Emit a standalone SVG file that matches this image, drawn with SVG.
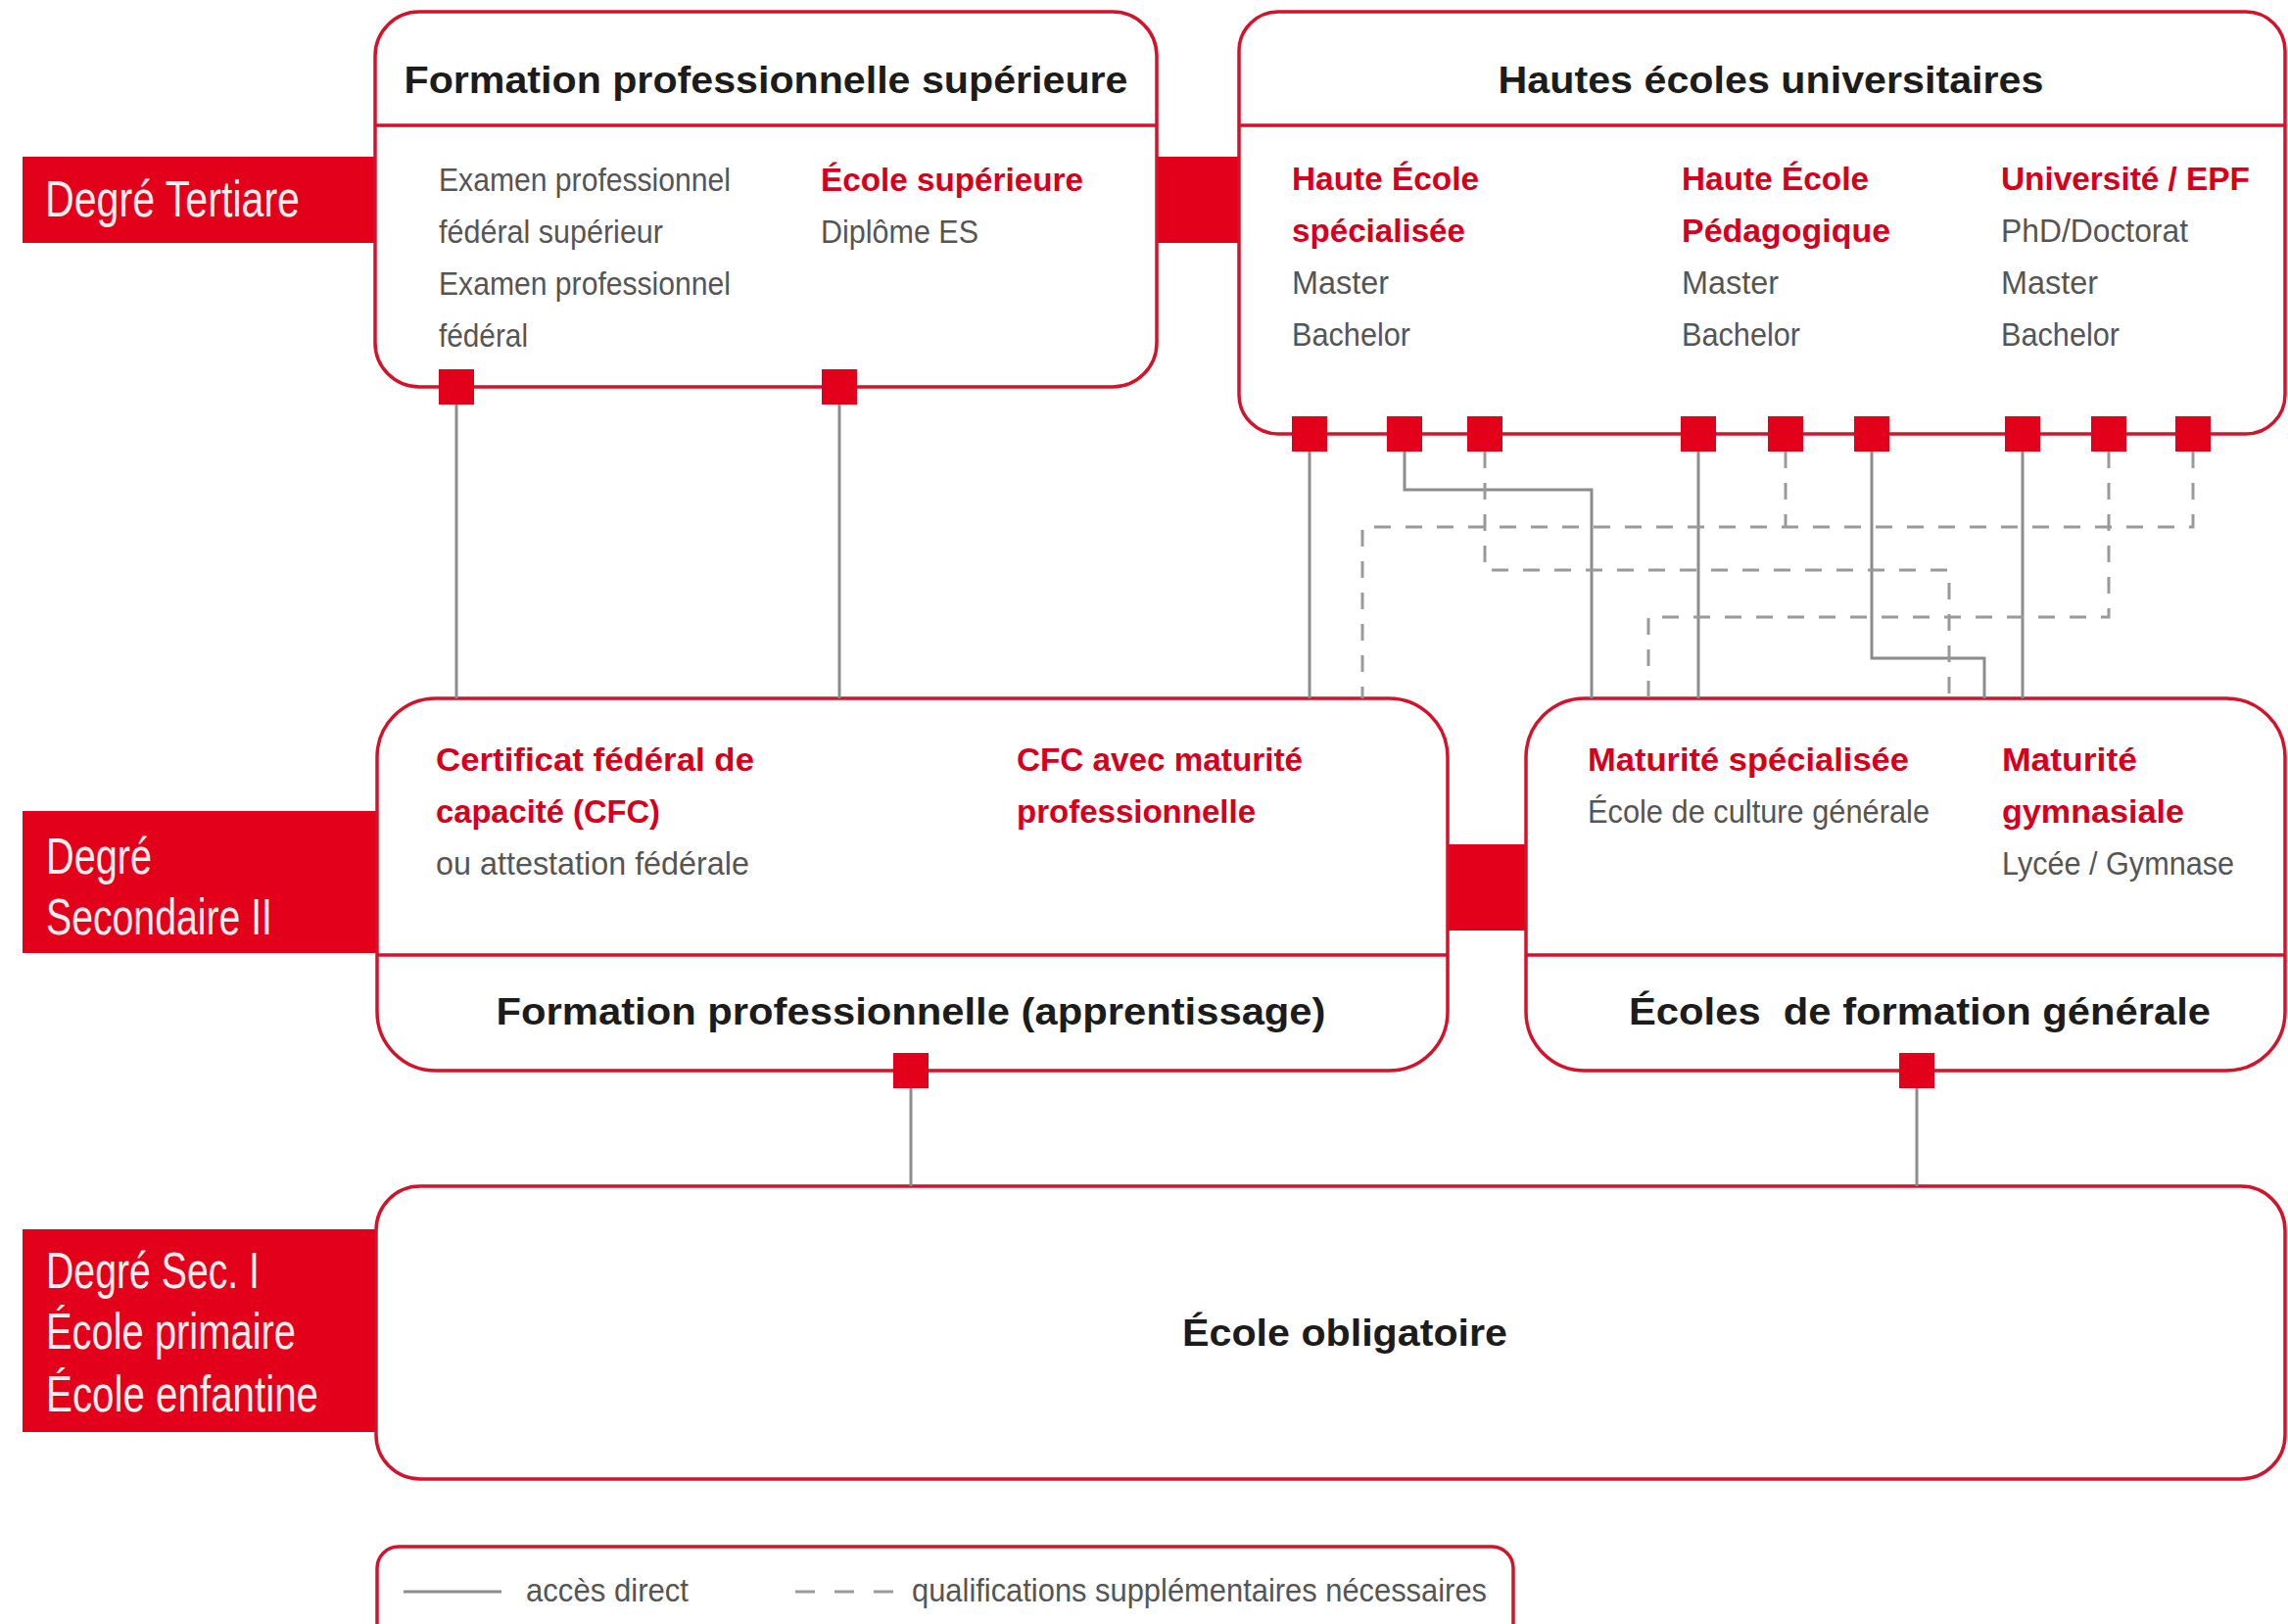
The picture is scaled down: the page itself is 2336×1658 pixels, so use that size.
<svg xmlns="http://www.w3.org/2000/svg" width="2336" height="1658" viewBox="0 0 2336 1658">
<style>
  text { font-family: "Liberation Sans", Arial, sans-serif; }
  .box { fill: #ffffff; stroke: #d3122b; stroke-width: 3.5; }
  .div { stroke: #d3122b; stroke-width: 3.5; fill: none; }
  .redfill { fill: #e2001a; }
  .port { fill: #e2001a; }
  .lbl { fill: #ffffff; font-size: 52px; opacity: 0.93; }
  .head { fill: #1c1c1c; font-size: 38px; font-weight: bold; }
  .sub { fill: #d6001c; font-size: 34px; font-weight: bold; }
  .body { fill: #555555; font-size: 33px; }
  .leg { fill: #555555; font-size: 34px; }
  .solid { stroke: #8c8c8c; stroke-width: 3; fill: none; }
  .dash { stroke: #9a9a9a; stroke-width: 3; fill: none; stroke-dasharray: 17 15; }
</style>
<rect x="0" y="0" width="2336" height="1658" fill="#ffffff"/>

<g id="bridges">
  <rect class="redfill" x="1179" y="160" width="88" height="88"/>
  <rect class="redfill" x="1476" y="862" width="84" height="88"/>
</g>

<g id="label-tertiaire">
  <rect class="redfill" x="23" y="160" width="362" height="88"/>
  <text class="lbl" x="46" y="221" textLength="260" lengthAdjust="spacingAndGlyphs">Degré Tertiare</text>
</g>

<g id="label-secondaire">
  <rect class="redfill" x="23" y="828" width="362" height="145"/>
  <text class="lbl" x="47" y="892" textLength="108" lengthAdjust="spacingAndGlyphs">Degré</text>
  <text class="lbl" x="47" y="954" textLength="231" lengthAdjust="spacingAndGlyphs">Secondaire II</text>
</g>

<g id="label-sec1">
  <rect class="redfill" x="23" y="1255" width="362" height="207"/>
  <text class="lbl" x="47" y="1315" textLength="218" lengthAdjust="spacingAndGlyphs">Degré Sec. I</text>
  <text class="lbl" x="47" y="1377" textLength="255" lengthAdjust="spacingAndGlyphs">École primaire</text>
  <text class="lbl" x="47" y="1441" textLength="278" lengthAdjust="spacingAndGlyphs">École enfantine</text>
</g>

<g id="box-formation-sup">
  <rect class="box" x="383" y="12" width="798" height="383" rx="45" ry="45"/>
  <line class="div" x1="383" y1="128" x2="1181" y2="128"/>
  <text class="head" x="782" y="95" text-anchor="middle" textLength="739" lengthAdjust="spacingAndGlyphs">Formation professionnelle supérieure</text>
  <text class="body" x="448" y="195" textLength="298" lengthAdjust="spacingAndGlyphs">Examen professionnel</text>
  <text class="body" x="448" y="248" textLength="229" lengthAdjust="spacingAndGlyphs">fédéral supérieur</text>
  <text class="body" x="448" y="301" textLength="298" lengthAdjust="spacingAndGlyphs">Examen professionnel</text>
  <text class="body" x="448" y="354" textLength="91" lengthAdjust="spacingAndGlyphs">fédéral</text>
  <text class="sub" x="838" y="195" textLength="268" lengthAdjust="spacingAndGlyphs">École supérieure</text>
  <text class="body" x="838" y="248" textLength="161" lengthAdjust="spacingAndGlyphs">Diplôme ES</text>
  <rect class="port" x="448" y="377" width="36" height="36"/>
  <rect class="port" x="839" y="377" width="36" height="36"/>
</g>

<g id="box-hautes-ecoles">
  <rect class="box" x="1265" y="12" width="1068" height="431" rx="40" ry="40"/>
  <line class="div" x1="1265" y1="128" x2="2333" y2="128"/>
  <text class="head" x="1808" y="95" text-anchor="middle" textLength="557" lengthAdjust="spacingAndGlyphs">Hautes écoles universitaires</text>
  <text class="sub" x="1319" y="194" textLength="191" lengthAdjust="spacingAndGlyphs">Haute École</text>
  <text class="sub" x="1319" y="247" textLength="177" lengthAdjust="spacingAndGlyphs">spécialisée</text>
  <text class="body" x="1319" y="300" textLength="99" lengthAdjust="spacingAndGlyphs">Master</text>
  <text class="body" x="1319" y="353" textLength="121" lengthAdjust="spacingAndGlyphs">Bachelor</text>
  <text class="sub" x="1717" y="194" textLength="191" lengthAdjust="spacingAndGlyphs">Haute École</text>
  <text class="sub" x="1717" y="247" textLength="213" lengthAdjust="spacingAndGlyphs">Pédagogique</text>
  <text class="body" x="1717" y="300" textLength="99" lengthAdjust="spacingAndGlyphs">Master</text>
  <text class="body" x="1717" y="353" textLength="121" lengthAdjust="spacingAndGlyphs">Bachelor</text>
  <text class="sub" x="2043" y="194" textLength="254" lengthAdjust="spacingAndGlyphs">Université / EPF</text>
  <text class="body" x="2043" y="247" textLength="191" lengthAdjust="spacingAndGlyphs">PhD/Doctorat</text>
  <text class="body" x="2043" y="300" textLength="99" lengthAdjust="spacingAndGlyphs">Master</text>
  <text class="body" x="2043" y="353" textLength="121" lengthAdjust="spacingAndGlyphs">Bachelor</text>
  <rect class="port" x="1319" y="425" width="36" height="36"/>
  <rect class="port" x="1416" y="425" width="36" height="36"/>
  <rect class="port" x="1498" y="425" width="36" height="36"/>
  <rect class="port" x="1716" y="425" width="36" height="36"/>
  <rect class="port" x="1805" y="425" width="36" height="36"/>
  <rect class="port" x="1893" y="425" width="36" height="36"/>
  <rect class="port" x="2047" y="425" width="36" height="36"/>
  <rect class="port" x="2135" y="425" width="36" height="36"/>
  <rect class="port" x="2221" y="425" width="36" height="36"/>
</g>

<g id="box-formation-pro">
  <rect class="box" x="385" y="713" width="1093" height="380" rx="60" ry="60"/>
  <line class="div" x1="385" y1="975" x2="1478" y2="975"/>
  <text class="sub" x="445" y="787" textLength="325" lengthAdjust="spacingAndGlyphs">Certificat fédéral de</text>
  <text class="sub" x="445" y="840" textLength="229" lengthAdjust="spacingAndGlyphs">capacité (CFC)</text>
  <text class="body" x="445" y="893" textLength="320" lengthAdjust="spacingAndGlyphs">ou attestation fédérale</text>
  <text class="sub" x="1038" y="787" textLength="292" lengthAdjust="spacingAndGlyphs">CFC avec maturité</text>
  <text class="sub" x="1038" y="840" textLength="244" lengthAdjust="spacingAndGlyphs">professionnelle</text>
  <text class="head" x="930" y="1046" text-anchor="middle" textLength="847" lengthAdjust="spacingAndGlyphs">Formation professionnelle (apprentissage)</text>
  <rect class="port" x="912" y="1075" width="36" height="36"/>
</g>

<g id="box-formation-generale">
  <rect class="box" x="1558" y="713" width="775" height="380" rx="60" ry="60"/>
  <line class="div" x1="1558" y1="975" x2="2333" y2="975"/>
  <text class="sub" x="1621" y="787" textLength="328" lengthAdjust="spacingAndGlyphs">Maturité spécialisée</text>
  <text class="body" x="1621" y="840" textLength="349" lengthAdjust="spacingAndGlyphs">École de culture générale</text>
  <text class="sub" x="2044" y="787" textLength="138" lengthAdjust="spacingAndGlyphs">Maturité</text>
  <text class="sub" x="2044" y="840" textLength="186" lengthAdjust="spacingAndGlyphs">gymnasiale</text>
  <text class="body" x="2044" y="893" textLength="237" lengthAdjust="spacingAndGlyphs">Lycée / Gymnase</text>
  <text class="head" x="1960" y="1046" text-anchor="middle" textLength="594" lengthAdjust="spacingAndGlyphs" style="white-space:pre">Écoles  de formation générale</text>
  <rect class="port" x="1939" y="1075" width="36" height="36"/>
</g>

<g id="box-ecole-obligatoire">
  <rect class="box" x="384" y="1211" width="1949" height="299" rx="45" ry="45"/>
  <text class="head" x="1373" y="1374" text-anchor="middle" textLength="332" lengthAdjust="spacingAndGlyphs">École obligatoire</text>
</g>

<g id="connectors">
  <path class="solid" d="M466 413 V713"/>
  <path class="solid" d="M857 413 V713"/>
  <path class="solid" d="M1337 461 V713"/>
  <path class="solid" d="M1434 461 V500 H1625 V713"/>
  <path class="solid" d="M1734 461 V713"/>
  <path class="solid" d="M1911 461 V672 H2026 V713"/>
  <path class="solid" d="M2065 461 V713"/>
  <path class="solid" d="M930 1111 V1211"/>
  <path class="solid" d="M1957 1111 V1211"/>
  <path class="dash" d="M2239 461 V538 H1391 V713"/>
  <path class="dash" d="M1823 461 V538"/>
  <path class="dash" d="M2153 461 V630 H1683 V713"/>
  <path class="dash" d="M1516 461 V582 H1990 V713"/>
</g>

<g id="legend">
  <rect class="box" x="385" y="1579" width="1160" height="130" rx="22" ry="22"/>
  <line class="solid" x1="412" y1="1625" x2="512" y2="1625"/>
  <text class="leg" x="537" y="1635" textLength="166" lengthAdjust="spacingAndGlyphs">accès direct</text>
  <line class="dash" x1="812" y1="1625" x2="913" y2="1625" style="stroke-dasharray:20 20"/>
  <text class="leg" x="931" y="1635" textLength="587" lengthAdjust="spacingAndGlyphs">qualifications supplémentaires nécessaires</text>
</g>
</svg>
